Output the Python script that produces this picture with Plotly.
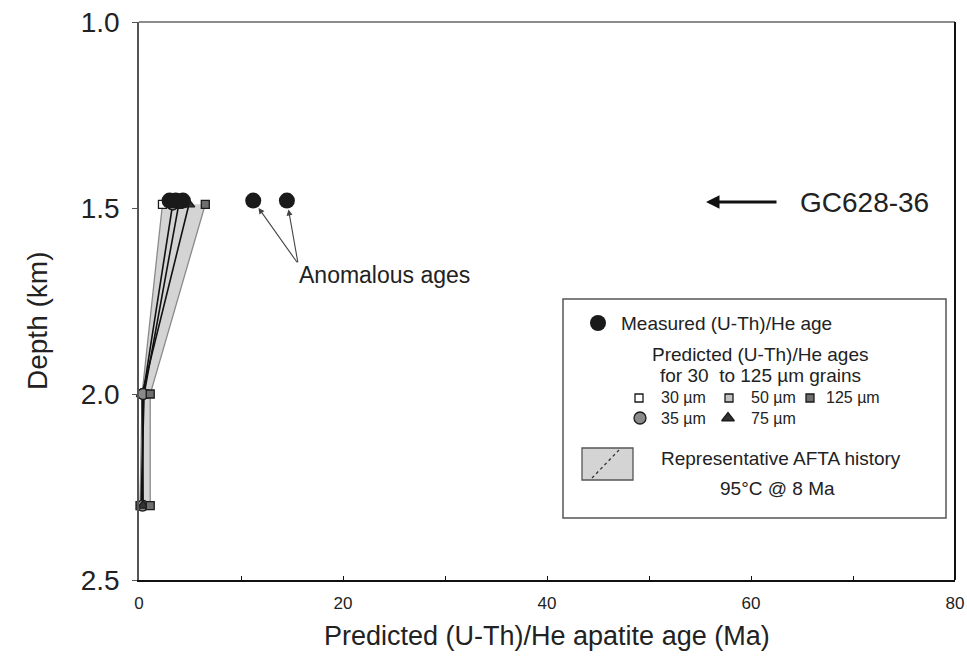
import plotly.graph_objects as go

# --- data -------------------------------------------------------------
measured_age = [3.0, 3.6, 4.3, 11.2, 14.5]          # Ma
measured_depth = [1.48, 1.48, 1.48, 1.48, 1.48]     # km

pred_depth = [1.49, 2.0, 2.3]                       # km
pred_30 = [2.3, 0.3, 0.1]
pred_35 = [3.3, 0.4, 0.35]
pred_50 = [3.9, 0.5, 0.2]
pred_75 = [4.9, 0.3, 0.4]
pred_125 = [6.5, 1.1, 1.1]

x_ticks = [0, 20, 40, 60, 80]
y_ticks = [1.0, 1.5, 2.0, 2.5]

SANS = "Liberation Sans, Arial, sans-serif"
TXT = "#222222"

# plot area in pixels (left, right, top, bottom)
L, R, T, B = 139, 955, 22, 580


def px(x):
    return (x - L) / (R - L)


def py(y):
    return (B - y) / (B - T)


fig = go.Figure()

# envelope between the finest and coarsest grain predictions
fig.add_trace(go.Scatter(
    x=pred_30 + pred_125[::-1], y=pred_depth + pred_depth[::-1],
    fill="toself", fillcolor="#d4d4d4", mode="lines",
    line=dict(width=0), hoverinfo="skip", showlegend=False))

# prediction profiles
for vals, col, w in [(pred_30, "#8a8a8a", 1.3), (pred_125, "#8a8a8a", 1.3),
                     (pred_35, "#111111", 1.6), (pred_50, "#111111", 1.6),
                     (pred_75, "#111111", 1.6)]:
    fig.add_trace(go.Scatter(x=vals, y=pred_depth, mode="lines",
                             line=dict(color=col, width=w),
                             showlegend=False, cliponaxis=False))


def add_markers(xs, ys, sym, fc, sz):
    fig.add_trace(go.Scatter(
        x=xs, y=ys, mode="markers", cliponaxis=False,
        marker=dict(symbol=sym, color=fc, size=sz,
                    line=dict(color="#1a1a1a", width=1.3)),
        showlegend=False))


add_markers(pred_30, pred_depth, "square", "white", 8)
add_markers(pred_50, pred_depth, "square", "#c4c4c4", 8)
add_markers(pred_35, pred_depth, "circle", "#8a8a8a", 11)
add_markers(pred_75, pred_depth, "triangle-up", "#333333", 10)
# 35 um markers above 2.1 km sit on top of the triangles
upper = [i for i, d in enumerate(pred_depth) if d < 2.1]
add_markers([pred_35[i] for i in upper], [pred_depth[i] for i in upper],
            "circle", "#8a8a8a", 11)
add_markers(pred_125, pred_depth, "square", "#6e6e6e", 8)

fig.add_trace(go.Scatter(
    x=measured_age, y=measured_depth, mode="markers", cliponaxis=False,
    marker=dict(symbol="circle", color="#1a1a1a", size=16),
    showlegend=False))

# --- key symbols on an overlay axis pair spanning the plot area --------
key_pts = [
    (598, 323, "circle", "#1a1a1a", 16, 0),
    (639, 398, "square", "white", 8, 1.3),
    (729, 398, "square", "#c4c4c4", 8, 1.3),
    (810, 398, "square", "#6e6e6e", 8, 1.3),
    (640, 418, "circle", "#8a8a8a", 12, 1.3),
    (728, 418, "triangle-up", "#333333", 11, 1.3),
]
for kx, ky, sym, fc, sz, lw in key_pts:
    fig.add_trace(go.Scatter(
        x=[px(kx)], y=[py(ky)], xaxis="x2", yaxis="y2", mode="markers",
        marker=dict(symbol=sym, color=fc, size=sz,
                    line=dict(color="#1a1a1a", width=lw)),
        showlegend=False, hoverinfo="skip", cliponaxis=False))

shapes = [
    # frame
    dict(type="line", xref="paper", yref="paper", x0=0, x1=1, y0=1, y1=1,
         line=dict(color="#8c8c8c", width=2)),
    dict(type="line", xref="paper", yref="paper", x0=1, x1=1, y0=0, y1=1,
         line=dict(color="#111111", width=2)),
    # key box
    dict(type="rect", xref="paper", yref="paper", x0=px(563), x1=px(946),
         y0=py(518), y1=py(299), line=dict(color="#555555", width=1.5),
         fillcolor="white", layer="below"),
    dict(type="rect", xref="paper", yref="paper", x0=px(582), x1=px(633),
         y0=py(480), y1=py(448), line=dict(color="#555555", width=1.3),
         fillcolor="#d4d4d4"),
    dict(type="line", xref="paper", yref="paper", x0=px(592), x1=px(619),
         y0=py(478), y1=py(450), line=dict(color="#333333", width=1.3, dash="dot")),
]


def note(text, x, y, size, anchor="center", **kw):
    d = dict(text=text, xref="paper", yref="paper", x=x, y=y, xanchor=anchor,
             yanchor="middle", showarrow=False,
             font=dict(size=size, family=SANS, color=TXT))
    d.update(kw)
    return d


um = "\u00b5m"
annotations = [
    # axis titles
    note("Predicted (U-Th)/He apatite age (Ma)", 0.5, 0, 27, yshift=-56),
    note("Depth (km)", 0, py(321), 28, xshift=-102, textangle=-90),
    # sample label with pointer
    note("GC628-36", px(798), py(202), 28, anchor="left"),
    dict(text="", xref="paper", yref="paper", x=px(706), y=py(202),
         ax=72, ay=0, axref="pixel", ayref="pixel", showarrow=True,
         arrowhead=2, arrowsize=0.9, arrowwidth=3, arrowcolor="#111"),
    # anomalous ages
    dict(text="Anomalous ages", x=15.5, y=1.68, xanchor="left", yanchor="middle",
         showarrow=False, font=dict(size=23, family=SANS, color=TXT)),
    # key text
    note("Measured (U-Th)/He age", px(619), py(323), 19, anchor="left"),
    note("Predicted (U-Th)/He ages", px(760), py(354), 19),
    note("for 30  to 125 " + um + " grains", px(760), py(375), 19),
    note("30 " + um, px(659), py(398), 16, anchor="left"),
    note("50 " + um, px(749), py(398), 16, anchor="left"),
    note("125 " + um, px(824), py(398), 16, anchor="left"),
    note("35 " + um, px(659), py(418), 16, anchor="left"),
    note("75 " + um, px(749), py(418), 16, anchor="left"),
    note("Representative AFTA history", px(781), py(458), 19),
    note("95\u00b0C @ 8 Ma", px(777), py(488), 19),
]

# pointers from the label to the two anomalous measurements
for age, dep in zip(measured_age[3:], measured_depth[3:]):
    annotations.append(dict(
        text="", x=age, y=dep, ax=15.6, ay=1.65, axref="x", ayref="y",
        showarrow=True, arrowhead=2, arrowsize=1.1, arrowwidth=1.1,
        arrowcolor="#444", standoff=9))

fig.update_layout(
    width=967, height=656,
    margin=dict(l=L, r=967 - R, t=T, b=656 - B, autoexpand=False),
    paper_bgcolor="white", plot_bgcolor="white",
    showlegend=False,
    xaxis=dict(range=[0, 80], tickvals=x_ticks, ticktext=[str(v) for v in x_ticks],
               showgrid=False, zeroline=False, showline=True, automargin=False,
               linecolor="#111", linewidth=2, ticks="inside", ticklen=4,
               tickcolor="#111", tickwidth=1.3,
               minor=dict(dtick=10, ticks="inside", ticklen=4, tickcolor="#111"),
               tickfont=dict(size=17, family="Liberation Sans Narrow, " + SANS, color=TXT),
               ticklabelstandoff=7),
    yaxis=dict(range=[2.5, 1.0], tickvals=y_ticks,
               ticktext=["%.1f" % v for v in y_ticks],
               showgrid=False, zeroline=False, showline=True, automargin=False,
               linecolor="#555", linewidth=1.5, ticks="outside", ticklen=5,
               tickcolor="#555", tickwidth=1.3,
               tickfont=dict(size=28, family=SANS, color=TXT),
               ticklabelstandoff=7),
    xaxis2=dict(overlaying="x", range=[0, 1], visible=False),
    yaxis2=dict(overlaying="y", range=[0, 1], visible=False),
    shapes=shapes, annotations=annotations,
)

fig.write_html("out.html")
